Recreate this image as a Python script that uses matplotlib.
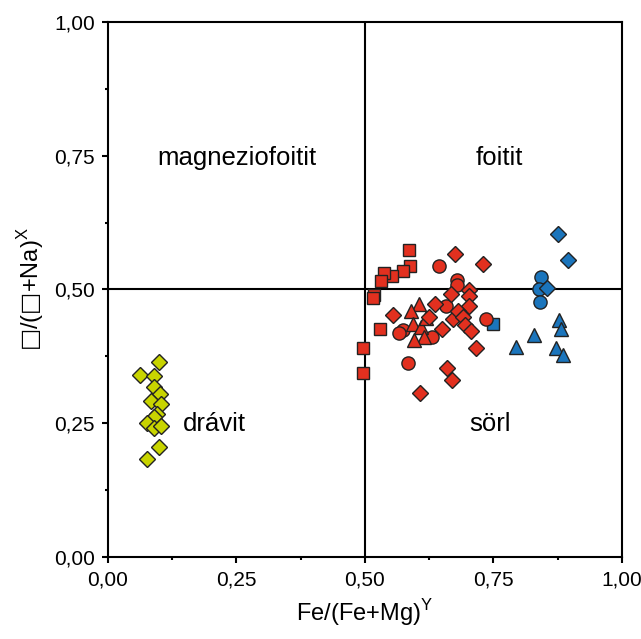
import numpy as np
from matplotlib import pyplot as plt
from matplotlib.ticker import MultipleLocator, FuncFormatter

plt.rcParams['font.family'] = ['Liberation Sans', 'DejaVu Sans']
plt.rcParams['mathtext.fontset'] = 'dejavusans'

# drávit (green diamonds)
green_x = [0.099, 0.063, 0.089, 0.089, 0.102, 0.084, 0.104, 0.096, 0.090, 0.075, 0.090, 0.104, 0.099, 0.075]
green_y = [0.364, 0.341, 0.338, 0.318, 0.305, 0.292, 0.286, 0.267, 0.262, 0.250, 0.242, 0.245, 0.205, 0.184]

# red group
red_sq_x = [0.585, 0.587, 0.574, 0.553, 0.538, 0.532, 0.518, 0.515, 0.530, 0.496, 0.497]
red_sq_y = [0.574, 0.543, 0.535, 0.525, 0.530, 0.515, 0.490, 0.484, 0.426, 0.390, 0.344]

red_ci_x = [0.644, 0.679, 0.679, 0.658, 0.574, 0.567, 0.631, 0.583, 0.736]
red_ci_y = [0.543, 0.518, 0.508, 0.469, 0.424, 0.418, 0.412, 0.362, 0.444]

red_tr_x = [0.606, 0.590, 0.594, 0.609, 0.616, 0.596, 0.619]
red_tr_y = [0.473, 0.459, 0.436, 0.430, 0.411, 0.406, 0.446]

red_di_x = [0.676, 0.729, 0.668, 0.702, 0.702, 0.703, 0.637, 0.555, 0.624, 0.671,
            0.681, 0.690, 0.694, 0.707, 0.651, 0.716, 0.659, 0.670, 0.607]
red_di_y = [0.566, 0.547, 0.492, 0.499, 0.487, 0.469, 0.473, 0.452, 0.448, 0.444,
            0.459, 0.448, 0.434, 0.423, 0.426, 0.390, 0.353, 0.331, 0.306]

# blue group
blue_di_x = [0.875, 0.895, 0.854]
blue_di_y = [0.604, 0.555, 0.502]
blue_ci_x = [0.843, 0.838, 0.841]
blue_ci_y = [0.524, 0.500, 0.477]
blue_tr_x = [0.877, 0.882, 0.830, 0.794, 0.872, 0.885]
blue_tr_y = [0.443, 0.427, 0.415, 0.392, 0.390, 0.378]
blue_sq_x = [0.750]
blue_sq_y = [0.436]

field_names = ['magneziofoitit', 'foitit', 'drávit', 'sörl']
field_x = [0.25, 0.762, 0.207, 0.744]
field_y = [0.746, 0.746, 0.249, 0.249]

GREEN = '#c8d400'
RED = '#e2301f'
BLUE = '#1b75bc'

fig = plt.figure(figsize=(6.41, 6.39), dpi=100)
ax = fig.add_axes([0.1685, 0.1283, 0.8015, 0.8373])

ax.axvline(0.5, color='black', lw=1.5, zorder=1)
ax.axhline(0.5, color='black', lw=1.5, zorder=1)

kw = dict(linestyle='none', mec='#222222', mew=1.0, zorder=3)
ax.plot(green_x, green_y, 'D', ms=8.5, mfc=GREEN, **kw)

ax.plot(blue_sq_x, blue_sq_y, 's', ms=8.5, mfc=BLUE, **kw)
ax.plot(blue_ci_x, blue_ci_y, 'o', ms=9.5, mfc=BLUE, **kw)
ax.plot(blue_tr_x, blue_tr_y, '^', ms=10, mfc=BLUE, **kw)
ax.plot(blue_di_x, blue_di_y, 'D', ms=8.5, mfc=BLUE, **kw)

ax.plot(red_sq_x, red_sq_y, 's', ms=8.5, mfc=RED, **kw)
ax.plot(red_ci_x, red_ci_y, 'o', ms=9.5, mfc=RED, **kw)
ax.plot(red_tr_x, red_tr_y, '^', ms=10, mfc=RED, **kw)
ax.plot(red_di_x, red_di_y, 'D', ms=8.5, mfc=RED, **kw)

for name, tx, ty in zip(field_names, field_x, field_y):
    ax.text(tx, ty, name, ha='center', va='center', fontsize=18.5)

ax.set_xlim(0, 1)
ax.set_ylim(0, 1)
fmt = FuncFormatter(lambda v, p: f'{v:.2f}'.replace('.', ','))
for axis in (ax.xaxis, ax.yaxis):
    axis.set_major_locator(MultipleLocator(0.25))
    axis.set_minor_locator(MultipleLocator(0.125))
    axis.set_major_formatter(fmt)
ax.tick_params(which='major', direction='out', length=4.5, width=1.5, labelsize=15, pad=5)
ax.tick_params(which='minor', direction='out', length=2.5, width=1.5)
for s in ax.spines.values():
    s.set_linewidth(1.5)

ax.set_xlabel('Fe/(Fe+Mg)$^\\mathregular{Y}$', fontsize=17, labelpad=6)
ax.set_ylabel('$\u25a1\\mathregular{/(}\u25a1\\mathregular{+Na)}^\\mathregular{X}$',
              fontsize=17, labelpad=6)

fig.savefig('out.png', dpi=100)
